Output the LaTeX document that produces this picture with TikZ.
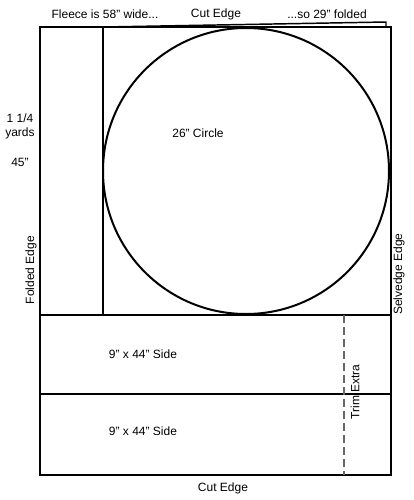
\documentclass[tikz,border=0pt]{standalone}
\usepackage{fontspec}
\setmainfont{Liberation Sans}
\usetikzlibrary{positioning}

\begin{document}
\begin{tikzpicture}[
    x=0.75pt,y=-0.75pt,
    every node/.style={
        inner sep=0pt,
        outer sep=0pt,
        font=\fontsize{9}{10.5}\selectfont,
    },
    edge/.style={
        draw=black,
        line width=1.5pt,
    },
    thin edge/.style={
        draw=black,
        line width=1.1pt,
    },
    trim/.style={
        draw=gray!80!black,
        line width=1pt,
        dash pattern=on 6pt off 3pt,
    },
    sidelabel/.style={
        rotate=90,
    },
]
    \useasboundingbox (0,0) rectangle (414,500);

    % ~~~ fleece piece ~~~~~~~~~~~~~~~~~~~~~~~~~~~~~~~~~~~~~~~~
    \draw[thin edge] (103,27) -- (386,22) -- (386,27);
    \draw[edge] (40,27) rectangle (391,475);
    \draw[edge] (103,27) -- (103,315);
    \draw[edge] (40,315) -- (391,315);
    \draw[edge] (40,394) -- (391,394);
    \draw[trim] (344,315) -- (344,475);
    \draw[edge] (246,171) circle (143);

    % ~~~ labels ~~~~~~~~~~~~~~~~~~~~~~~~~~~~~~~~~~~~~~~~~~~~~
    \node (wide)   at (105,14) {Fleece is 58'' wide...};
    \node (cuttop) at (216,14) {Cut Edge};
    \node (fold)   at (327,14) {...so 29'' folded};
    \node[align=center] (yards) at (20,126) {1 1/4\\yards};
    \node (inches) at (20,162) {45''};
    \node[sidelabel] (folded) at (31,270) {Folded Edge};
    \node[sidelabel] (selv)   at (399,274) {Selvedge Edge};
    \node (circ)   at (198,133) {26'' Circle};
    \node (sidea)  at (143,354) {9'' x 44'' Side};
    \node (sideb)  at (143,431) {9'' x 44'' Side};
    \node[sidelabel] (extra) at (355,392) {Trim Extra};
    \node (cutbot) at (223,488) {Cut Edge};
\end{tikzpicture}
\end{document}
